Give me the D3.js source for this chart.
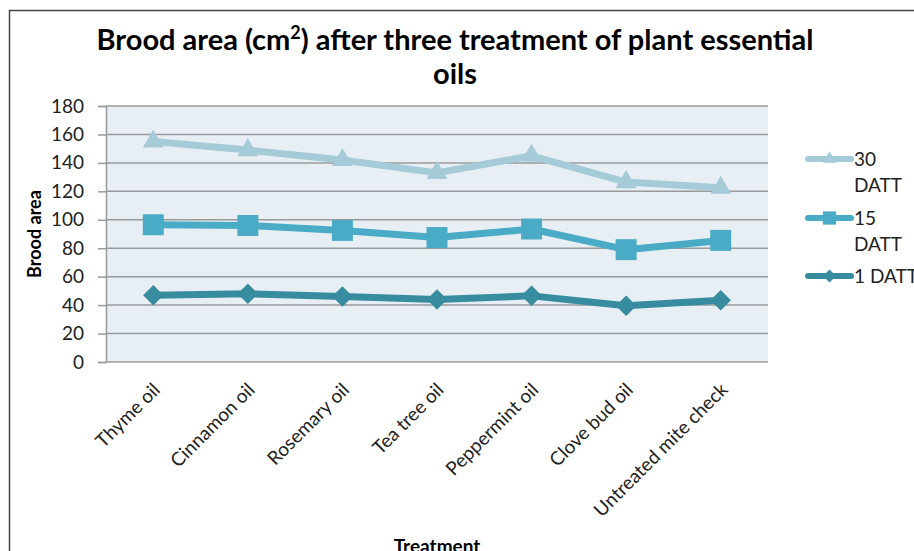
<!DOCTYPE html>
<meta charset="utf-8">
<script src="https://d3js.org/d3.v7.min.js"></script>
<style>
  body { margin: 0; background: #fff; }
  text { font-family: Lato, "Open Sans", sans-serif; }
</style>
<div id="chart"></div>
<script>
// data
var treatments = ["Thyme oil", "Cinnamon oil", "Rosemary oil", "Tea tree oil", "Peppermint oil", "Clove bud oil", "Untreated mite check"];
var datt30 = [155, 149, 142, 133, 145, 126.5, 122.5];
var datt15 = [96.5, 96, 92.5, 87.5, 93.5, 79, 85.5];
var datt1 = [47, 48, 46, 44, 46.5, 39.5, 43.5];
var seriesNames = ["30 DATT", "15 DATT", "1 DATT"];
var yTicks = [0, 20, 40, 60, 80, 100, 120, 140, 160, 180];

var W = 914, H = 551;
var margin = {top: 106, right: 146, bottom: 189, left: 106};
var width = W - margin.left - margin.right,
    height = H - margin.top - margin.bottom;

var svg = d3.select("#chart").append("svg")
    .attr("width", W)
    .attr("height", H);

// outer frame
svg.append("rect")
    .attr("x", 9.5).attr("y", 10.5)
    .attr("width", W + 20).attr("height", H + 20)
    .attr("fill", "none")
    .attr("stroke", "#444")
    .attr("stroke-width", 1.5);

// title
var title = svg.append("text")
    .attr("text-anchor", "middle")
    .attr("font-weight", "bold")
    .attr("font-size", 29)
    .attr("fill", "#000");
title.append("tspan").attr("x", 455).attr("y", 50).text("Brood area (cm");
title.append("tspan").attr("font-size", 18).attr("dy", -11).text("2");
title.append("tspan").attr("dy", 11).text(") after three treatment of plant essential");
title.append("tspan").attr("x", 455).attr("y", 84).text("oils");

var g = svg.append("g")
    .attr("transform", "translate(" + margin.left + "," + margin.top + ")");

var x = d3.scaleBand()
    .domain(treatments)
    .range([0, width]);

var y = d3.scaleLinear()
    .domain([0, 180])
    .range([height, 0]);

// plot background
g.append("rect")
    .attr("width", width)
    .attr("height", height)
    .attr("fill", "#e8eff4");

// gridlines
g.selectAll(".grid")
    .data(yTicks)
    .enter().append("line")
      .attr("x1", 0).attr("x2", width)
      .attr("y1", d => y(d)).attr("y2", d => y(d))
      .attr("stroke", "#9a9a9a")
      .attr("stroke-width", 1.5);

// y axis
var yAxis = g.append("g")
    .call(d3.axisLeft(y).tickValues(yTicks).tickSize(8).tickPadding(14));
yAxis.select(".domain").attr("stroke", "#9a9a9a").attr("stroke-width", 1.5);
yAxis.selectAll(".tick line").attr("stroke", "#9a9a9a").attr("stroke-width", 1.5);
yAxis.selectAll("text")
    .attr("font-size", 19)
    .attr("fill", "#222")
    .style("font-family", "Lato, sans-serif");

// x labels
g.append("g")
    .attr("transform", "translate(0," + height + ")")
    .selectAll("text")
    .data(treatments)
    .enter().append("text")
      .attr("transform", d => "translate(" + (x(d) + x.bandwidth() / 2 + 8) + ",29) rotate(-45)")
      .attr("text-anchor", "end")
      .attr("font-size", 19)
      .attr("fill", "#222")
      .text(d => d);

// axis titles
svg.append("text")
    .attr("transform", "translate(41," + (margin.top + height / 2) + ") rotate(-90)")
    .attr("text-anchor", "middle")
    .attr("font-weight", "bold")
    .attr("font-size", 18)
    .text("Brood area");

svg.append("text")
    .attr("x", margin.left + width / 2)
    .attr("y", 553)
    .attr("text-anchor", "middle")
    .attr("font-weight", "bold")
    .attr("font-size", 19)
    .text("Treatment");

// series
var diamond = {draw: function(ctx, size) {
  var r = Math.sqrt(size / 2);
  ctx.moveTo(0, -r); ctx.lineTo(r, 0); ctx.lineTo(0, r); ctx.lineTo(-r, 0); ctx.closePath();
}};
var series = [
  {name: seriesNames[0], values: datt30, color: "#a5cad8", symbol: d3.symbolTriangle, size: 190},
  {name: seriesNames[1], values: datt15, color: "#4aabc6", symbol: d3.symbolSquare, size: 440},
  {name: seriesNames[2], values: datt1, color: "#378c9f", symbol: diamond, size: 210}
];

var cx = d => x(d) + x.bandwidth() / 2;
var line = d3.line()
    .x((v, i) => cx(treatments[i]))
    .y(v => y(v));

series.forEach(function(s) {
  g.append("path")
    .datum(s.values)
    .attr("fill", "none")
    .attr("stroke", s.color)
    .attr("stroke-width", 7)
    .attr("stroke-linejoin", "round")
    .attr("d", line);

  g.selectAll(null)
    .data(s.values)
    .enter().append("path")
      .attr("transform", (v, i) => "translate(" + cx(treatments[i]) + "," + y(v) + ")")
      .attr("d", d3.symbol().type(s.symbol).size(s.size))
      .attr("fill", s.color);
});

// legend
var legendY = [159, 218, 276];
var legend = svg.append("g");
series.forEach(function(s, i) {
  var ly = legendY[i];
  legend.append("line")
    .attr("x1", 808).attr("x2", 851)
    .attr("y1", ly).attr("y2", ly)
    .attr("stroke", s.color)
    .attr("stroke-width", 6)
    .attr("stroke-linecap", "round");
  legend.append("path")
    .attr("transform", "translate(829.5," + ly + ")")
    .attr("d", d3.symbol().type(s.symbol).size(s.size * 0.4))
    .attr("fill", s.color);
  var t = legend.append("text")
    .attr("font-size", 19)
    .attr("fill", "#222");
  var parts = s.name.split(" ");
  if (i < 2) {
    t.append("tspan").attr("x", 854).attr("y", ly + 7).text(parts[0]);
    t.append("tspan").attr("x", 854).attr("y", ly + 33).text(parts[1]);
  } else {
    t.attr("x", 854).attr("y", ly + 7).text(s.name);
  }
});
</script>
